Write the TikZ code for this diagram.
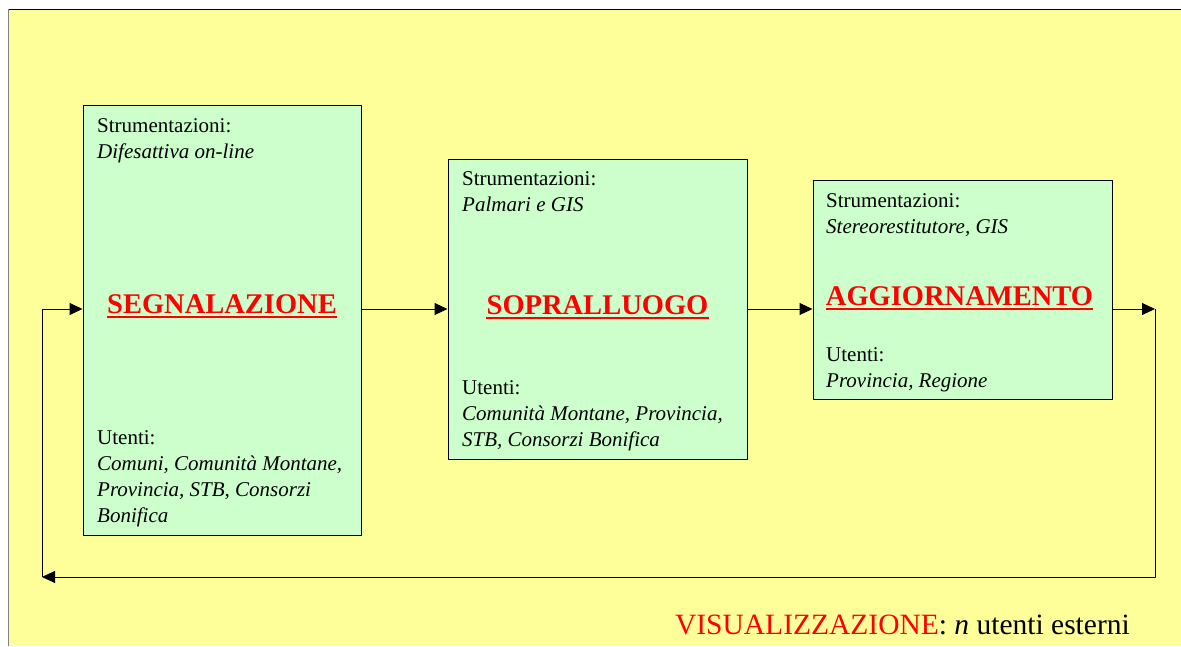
\documentclass[tikz,border=0pt]{standalone}
\usepackage{fontspec}
\setmainfont{Liberation Serif}
\usetikzlibrary{arrows.meta}
\definecolor{fondo}{HTML}{FFFF99}
\definecolor{verde}{HTML}{CCFFCC}
\tikzset{
  fase/.style={draw=black, line width=1pt, fill=verde, inner sep=0pt},
  testo/.style={anchor=base west, inner sep=0pt, align=left, font=\fontsize{21}{26}\selectfont},
  titolo/.style={anchor=base, inner sep=0pt, text=red, font=\fontsize{28.5}{32}\selectfont\bfseries},
  sotto/.style={red, line width=2.5pt},
  freccia/.style={line width=1pt, -{Triangle[length=13pt,width=12pt]}},
}
\begin{document}
\begin{tikzpicture}[x=1pt, y=-1pt, line join=round]
    \useasboundingbox (0,0) rectangle (1181,646);
    \fill[fondo] (8,9) rectangle (1181,646);
    \draw[line width=1pt] (8,9) -- (1181,9);
    \draw[gray, line width=0.8pt] (8,9) -- (8,646);
    % fasi
    \node[fase, minimum width=278pt, minimum height=430pt] (segn) at (222,320) {};
    \node[fase, minimum width=299pt, minimum height=300pt] (sopr) at (597.5,309) {};
    \node[fase, minimum width=299pt, minimum height=219pt] (aggi) at (962.5,289.5) {};
    \node[titolo] (segt) at (222,313) {SEGNALAZIONE};
    \node[titolo] (sopt) at (597.5,314) {SOPRALLUOGO};
    \node[titolo] (aggt) at (959.5,305) {AGGIORNAMENTO};
    \foreach \t in {segt,sopt,aggt}
        \draw[sotto] ([yshift=-4pt]\t.base west) -- ([yshift=-4pt]\t.base east);
    % testi: base = ultima riga
    \node[testo] (segs) at (97,158) {Strumentazioni:\\\textit{Difesattiva on-line}};
    \node[testo] (segu) at (97,522) {Utenti:\\\textit{Comuni, Comunità Montane,}\\\textit{Provincia, STB, Consorzi}\\\textit{Bonifica}};
    \node[testo] (sops) at (462,211) {Strumentazioni:\\\textit{Palmari e GIS}};
    \node[testo] (sopu) at (462,446) {Utenti:\\\textit{Comunità Montane, Provincia,}\\\textit{STB, Consorzi Bonifica}};
    \node[testo] (aggs) at (826,233) {Strumentazioni:\\\textit{Stereorestitutore, GIS}};
    \node[testo] (aggu) at (826,387) {Utenti:\\\textit{Provincia, Regione}};
    % ciclo
    \coordinate (dx) at (1155,309);
    \coordinate (giu) at (1155,577);
    \coordinate (sx) at (42,577);
    \coordinate (su) at (42,309);
    \draw[freccia] (segn.east |- su) -- (sopr.west |- su);
    \draw[freccia] (sopr.east |- su) -- (aggi.west |- su);
    \draw[freccia] (aggi.east |- dx) -- (dx);
    \draw[freccia] (dx) -- (giu) -- (sx);
    \draw[freccia] (sx) -- (su) -- (segn.west |- su);
    \node[anchor=base east, inner sep=0pt, font=\fontsize{29.5}{32}\selectfont] (vis) at (1130,634)
        {\textcolor{red}{VISUALIZZAZIONE}: \textit{n} utenti esterni};
\end{tikzpicture}
\end{document}
